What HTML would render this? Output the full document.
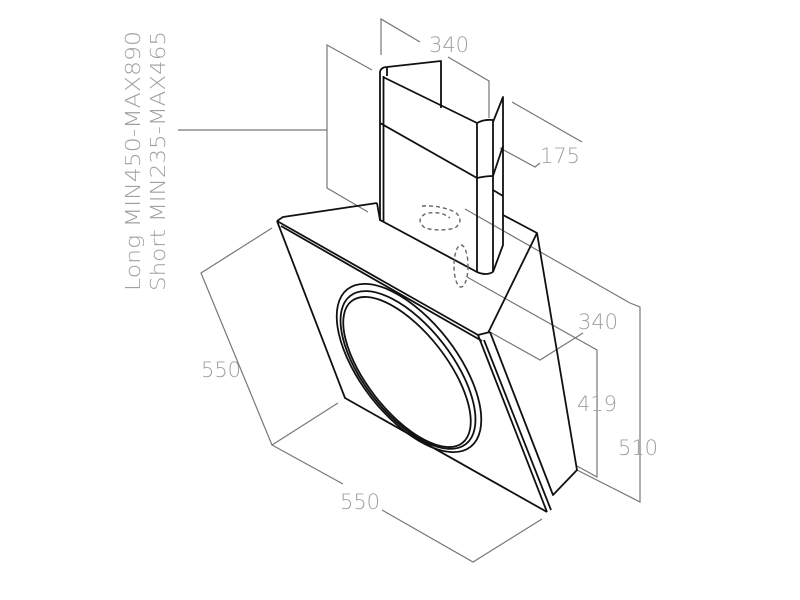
<!DOCTYPE html>
<html><head><meta charset="utf-8"><style>
html,body{margin:0;padding:0;background:#fff;}
svg{display:block;}
text{font-family:"DejaVu Sans","Liberation Sans",sans-serif;fill:#a0a0a0;font-weight:200;}
</style></head><body>
<svg width="800" height="600" viewBox="0 0 800 600" xmlns="http://www.w3.org/2000/svg">
<g fill="none" stroke="#777" stroke-width="1.2">
  <polyline points="372,70 327,45 327,188 368,212"/>
  <line x1="178" y1="130" x2="327" y2="130"/>
  <polyline points="381,55 381,19 420,42"/>
  <polyline points="448,57 489,81 489,118"/>
  <line x1="512" y1="102" x2="582" y2="142"/>
  <polyline points="500,148 535,167 540,163"/>
  <polyline points="272,228 201,273 272,445 338,403"/>
  <polyline points="272,445 343,484"/>
  <polyline points="382,510 473,562 542,519"/>
  <polyline points="465,209 630,303"/>
  <polyline points="630,303 640,307 640,502 577,470"/>
  <polyline points="467,277 597,350 597,477 577,466"/>
  <polyline points="490,332 540,360 583,333"/>
</g>
<g fill="none" stroke="#111" stroke-width="1.8" stroke-linejoin="round">
  <line x1="380" y1="72" x2="380" y2="221"/>
  <line x1="383.5" y1="76" x2="383.5" y2="222"/>
  <path d="M380,72 Q381,67 387,67 L441,61 L441,108"/>
  <line x1="387" y1="67" x2="387" y2="76"/>
  <path d="M383,77 L477,123 Q484,119 493,120"/>
  <path d="M380,123 L477,178 Q486,176 493,176"/>
  <path d="M380,220 L477,272 Q486,276 493,272"/>
  <line x1="477" y1="123" x2="477" y2="272"/>
  <line x1="493" y1="120" x2="493" y2="272"/>
  <path d="M493,122 L503,97 L503,245 L493,272"/>
  <line x1="493" y1="176" x2="503" y2="146"/>
  <line x1="493" y1="190" x2="503" y2="196"/>
  <path d="M277,221 L345,398 L547,512"/>
  <path d="M277,221 L283,217 L377,203"/>
  <line x1="277" y1="221" x2="478" y2="335"/>
  <line x1="281" y1="226" x2="482" y2="341"/>
  <line x1="478" y1="335" x2="547" y2="512"/>
  <line x1="484" y1="340" x2="551" y2="510"/>
  <path d="M490,332 L553,495 L577,470 L537,233 L503,215"/>
  <line x1="537" y1="233" x2="488" y2="333"/>
  <line x1="478" y1="335" x2="490" y2="332"/>
  <line x1="380" y1="220" x2="377" y2="203"/>
  <ellipse cx="409" cy="368" rx="100" ry="48" transform="rotate(52 409 368)"/>
  <ellipse cx="408" cy="370" rx="94" ry="44" transform="rotate(52 408 370)"/>
  <ellipse cx="407" cy="372" rx="90" ry="40" transform="rotate(52 407 372)"/>
</g>
<g fill="none" stroke="#666" stroke-width="1.4" stroke-dasharray="4,3">
  <path d="M422,206 Q440,205 455,212 Q465,220 455,228 Q440,232 425,228 Q415,220 425,214 Q440,210 450,218"/>
  <ellipse cx="461" cy="266" rx="7" ry="21"/>
</g>
<text x="449" y="52" font-size="21" text-anchor="middle">340</text>
<text x="560" y="163" font-size="21" text-anchor="middle">175</text>
<text x="598" y="329" font-size="21" text-anchor="middle">340</text>
<text x="597" y="411" font-size="21" text-anchor="middle">419</text>
<text x="638" y="455" font-size="21" text-anchor="middle">510</text>
<text x="221" y="377" font-size="21" text-anchor="middle">550</text>
<text x="360" y="509" font-size="21" text-anchor="middle">550</text>
<text transform="translate(140,291) rotate(-90)" font-size="20" textLength="260" lengthAdjust="spacingAndGlyphs">Long MIN450-MAX890</text>
<text transform="translate(165,291) rotate(-90)" font-size="20" textLength="260" lengthAdjust="spacingAndGlyphs">Short MIN235-MAX465</text>
</svg>
</body></html>
